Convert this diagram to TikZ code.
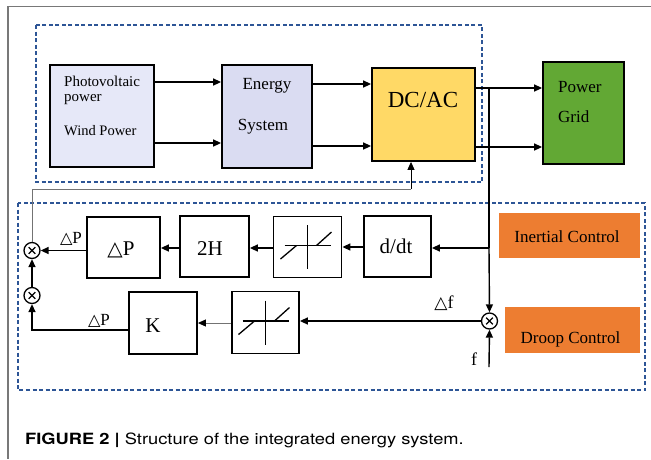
\documentclass[tikz,border=0pt]{standalone}
\usepackage{fontspec}
\setmainfont{Liberation Serif}
\newfontfamily\capfont{TeX Gyre Heros}
\newfontfamily\symfont{DejaVu Sans}
\usetikzlibrary{arrows.meta}
\definecolor{dashblue}{RGB}{45,85,150}
\definecolor{pvfill}{RGB}{230,232,248}
\definecolor{enfill}{RGB}{218,220,242}
\definecolor{dcfill}{RGB}{255,217,102}
\definecolor{gridfill}{RGB}{98,168,52}
\definecolor{orangefill}{RGB}{237,125,49}
\definecolor{framegray}{RGB}{120,120,120}
\newcommand{\tri}{{\symfont\scalebox{0.95}{△}}}
\tikzset{
  blk/.style={draw=black, line width=1.8pt, inner sep=0pt, rectangle},
  obox/.style={fill=orangefill, inner sep=0pt, rectangle},
  arr/.style={line width=1.4pt, -{Triangle[length=8pt,width=7pt]}},
  garr/.style={line width=0.9pt, draw=black!55, -{Triangle[length=8pt,width=7pt,fill=black,color=black]}},
  gline/.style={line width=0.9pt, draw=black!55},
  dbox/.style={draw=dashblue, line width=1.3pt, dash pattern=on 4pt off 2.5pt},
  mult/.style={circle, draw=black, line width=1.3pt, minimum size=16pt, inner sep=0pt,
    path picture={\draw[line width=1.3pt]
      ([shift={(-3.3,-3.3)}]path picture bounding box.center) -- ([shift={(3.3,3.3)}]path picture bounding box.center)
      ([shift={(-3.3,3.3)}]path picture bounding box.center) -- ([shift={(3.3,-3.3)}]path picture bounding box.center);}},
  txt/.style={inner sep=0pt, anchor=base},
  sat/.style={line width=1.3pt}
}
\begin{document}
\begin{tikzpicture}[x=1pt,y=-1pt]
\useasboundingbox (0,0) rectangle (651,459);
% frame
\draw[framegray, line width=1.4pt] (651,6.5) -- (8,6.5) -- (8,459);
% dashed boxes
\draw[dbox] (36,25) rectangle (482,182);
\draw[dbox] (18,203) rectangle (645,390);
% top boxes
\node[blk, fill=pvfill, minimum width=104pt, minimum height=102pt] (pv) at (102,116) {};
\node[blk, fill=enfill, minimum width=90pt, minimum height=103pt] (en) at (267,116.5) {};
\node[blk, fill=dcfill, minimum width=103pt, minimum height=93pt] (dc) at (423.5,114.5) {};
\node[blk, fill=gridfill, minimum width=81pt, minimum height=102pt] (grid) at (583.5,113) {};
\node[txt, anchor=base west, font=\fontsize{15}{15}\selectfont] (pv1) at (64,86) {Photovoltaic};
\node[txt, anchor=base west, font=\fontsize{15}{15}\selectfont] (pv2) at (64,101) {power};
\node[txt, anchor=base west, font=\fontsize{14.5}{14.5}\selectfont] (pv3) at (64,135) {Wind Power};
\node[txt, font=\fontsize{17}{17}\selectfont] (en1) at (267,89) {Energy};
\node[txt, font=\fontsize{17}{17}\selectfont] (en2) at (263,130) {System};
\node[txt, font=\fontsize{23}{23}\selectfont] (dct) at (423,107) {DC/AC};
\node[txt, anchor=base west, font=\fontsize{17}{17}\selectfont] (g1) at (558,92) {Power};
\node[txt, anchor=base west, font=\fontsize{17}{17}\selectfont] (g2) at (558,122) {Grid};
% top arrows
\draw[arr] (pv.east |- 0,82) -- (en.west |- 0,82);
\draw[arr] (pv.east |- 0,143) -- (en.west |- 0,143);
\draw[arr] (en.east |- 0,84) -- (dc.west |- 0,84);
\draw[arr] (en.east |- 0,146) -- (dc.west |- 0,146);
\draw[arr] (dc.east |- 0,88) -- (grid.west |- 0,88);
\draw[arr] (dc.east |- 0,147) -- (grid.west |- 0,147);
% control blocks
\node[blk, fill=white, minimum width=73pt, minimum height=61pt] (dP) at (123.5,247.5) {};
\node[txt, font=\fontsize{21}{21}\selectfont] (dPt) at (121,255) {\tri P};
\node[blk, fill=white, minimum width=69pt, minimum height=61pt] (h2) at (214.5,246.5) {};
\node[txt, font=\fontsize{21}{21}\selectfont] (h2t) at (210,255) {2H};
\node[blk, fill=white, minimum width=68pt, minimum height=61pt] (s1) at (307.5,247) {};
\node[blk, fill=white, minimum width=67pt, minimum height=61pt] (dd) at (397.5,246.5) {};
\node[txt, font=\fontsize{21}{21}\selectfont] (ddt) at (396,253) {d/dt};
\node[blk, fill=white, minimum width=68pt, minimum height=62pt] (K) at (163,323) {};
\node[txt, font=\fontsize{21}{21}\selectfont] (Kt) at (153,332) {K};
\node[blk, fill=white, minimum width=67pt, minimum height=62pt] (s2) at (265.5,322.5) {};
\node[obox, minimum width=141pt, minimum height=45pt] (ic) at (569.5,235.5) {};
\node[txt, font=\fontsize{17}{17}\selectfont] (ict) at (567,242) {Inertial Control};
\node[obox, minimum width=135pt, minimum height=46pt] (drc) at (572.5,330) {};
\node[txt, font=\fontsize{17}{17}\selectfont] (drct) at (570.5,343) {Droop Control};
% saturation symbols
\foreach \s in {s1,s2}{
  \draw[sat] ([shift={(0,-22)}]\s.center) -- ([shift={(0,22)}]\s.center);
  \draw[sat] ([shift={(-23,-1.5)}]\s.center) -- ([shift={(23,-1.5)}]\s.center);
  \draw[sat] ([shift={(-27,12)}]\s.center) -- ([shift={(-11,-1.5)}]\s.center);
  \draw[sat] ([shift={(9,-1.5)}]\s.center) -- ([shift={(24,-15)}]\s.center);
}
% summing points
\node[mult] (c1) at (32,250.5) {};
\node[mult] (c2) at (32,295.5) {};
\node[mult] (c3) at (489.5,321) {};
% connectors
\coordinate (j1) at (489,88);
\coordinate (j2) at (489,248);
\coordinate (fin) at (489,367);
\draw[line width=1.4pt] (j1) -- (j2);
\draw[arr] (j2) -- (c3.north);
\draw[arr] (j2) -- (dd.east |- j2);
\draw[arr] (dd.west |- 0,247) -- (s1.east |- 0,247);
\draw[arr] (s1.west |- 0,248) -- (h2.east |- 0,248);
\draw[arr] (h2.west |- 0,248) -- (dP.east |- 0,248);
\draw[arr] (dP.west |- c1) -- (c1.east);
\draw[arr] (c3.west) -- (s2.east |- c3.west);
\draw[garr] (s2.west |- 0,323) -- (K.east |- 0,323);
\draw[arr] (K.west |- 0,330) -| (c2.south);
\draw[arr] (c2.north) -- (c1.south);
\draw[arr] (fin) -- (c3.south);
\draw[gline] (c1.north) -- (c1.north |- 0,189) -- (411,189);
\draw[arr, line width=0.9pt] (411,189) -- (dc.south -| 411,0);
% labels
\node[txt, font=\fontsize{17}{17}\selectfont] (l1) at (71,243) {\tri P};
\node[txt, font=\fontsize{17}{17}\selectfont] (l2) at (99,325) {\tri P};
\node[txt, font=\fontsize{18}{18}\selectfont] (l3) at (444,308) {\tri f};
\node[txt, font=\fontsize{18}{18}\selectfont] (l4) at (474,365) {f};
% caption
\node[txt, anchor=base west, font=\capfont\fontsize{15.5}{15.5}\selectfont] (cap) at (25,444) {\scalebox{1.18}[1]{\textbf{FIGURE 2 |} Structure of the integrated energy system.}};
\end{tikzpicture}
\end{document}
